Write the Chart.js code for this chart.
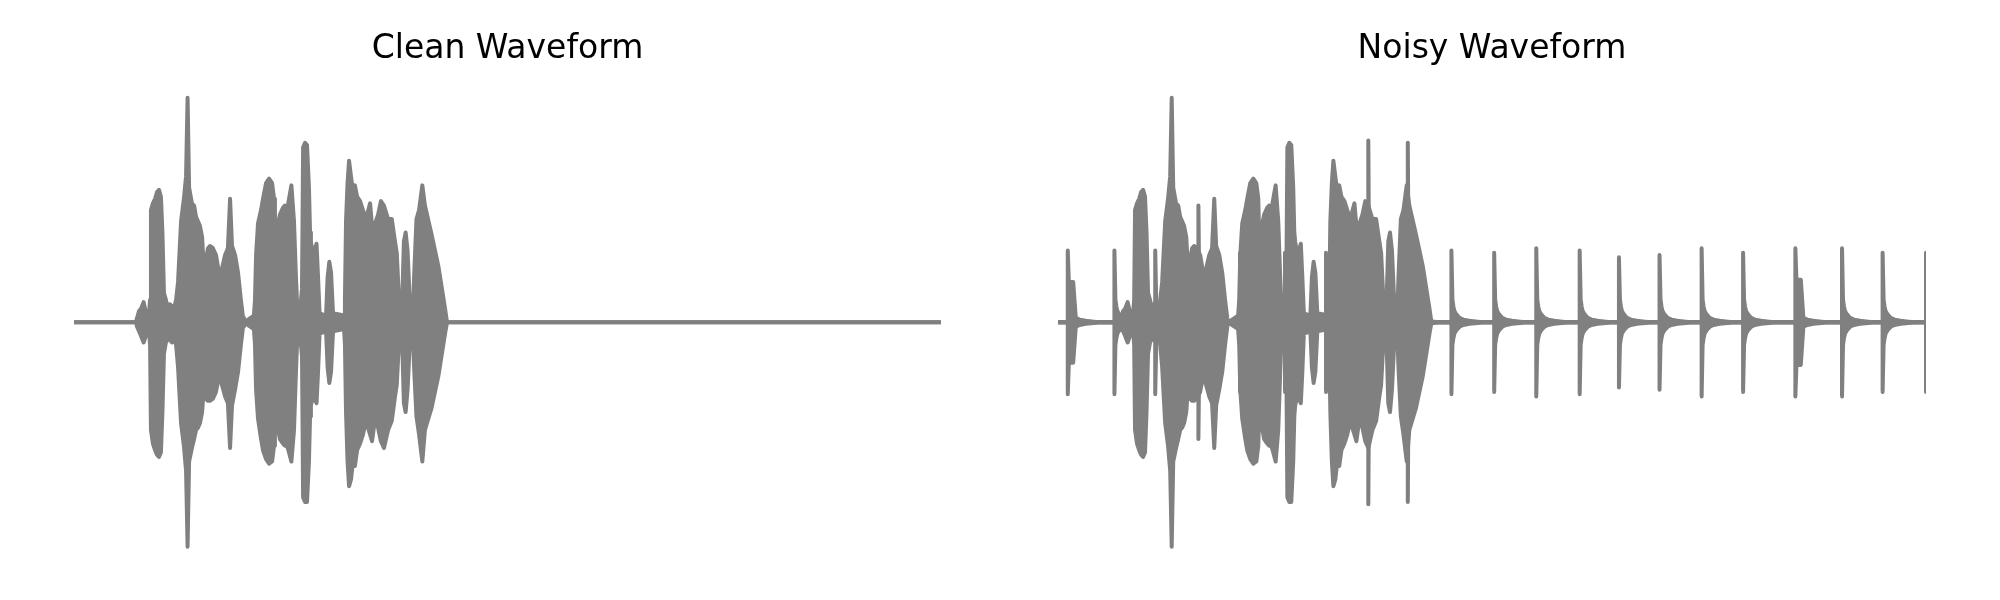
<!DOCTYPE html>
<html>
<head>
<meta charset="utf-8">
<script src="https://cdn.jsdelivr.net/npm/chart.js@4/dist/chart.umd.min.js"></script>
<style>
  html, body { margin: 0; padding: 0; background: #fff; }
  #wrap { position: relative; width: 2000px; height: 600px; }
  .panel { position: absolute; top: 0; width: 1000px; height: 600px; }
</style>
</head>
<body>
<div id="wrap">
  <div class="panel" style="left:0"><canvas id="cleanChart" width="1000" height="600"></canvas></div>
  <div class="panel" style="left:1000px"><canvas id="noisyChart" width="1000" height="600"></canvas></div>
</div>
<script>
const duration = 4.0; // seconds on each panel

// speech envelope (time s, amplitude / largest peak)
const speechTime = [
  0, 0.286, 0.291, 0.300, 0.309, 0.321, 0.328, 0.337, 0.346, 0.351,
  0.355, 0.364, 0.374, 0.383, 0.392, 0.401, 0.408, 0.415, 0.424, 0.434,
  0.443, 0.452, 0.461, 0.471, 0.480, 0.494, 0.507, 0.517, 0.524, 0.531,
  0.544, 0.554, 0.563, 0.572, 0.581, 0.591, 0.600, 0.609, 0.618, 0.627,
  0.641, 0.655, 0.669, 0.683, 0.697, 0.710, 0.720, 0.729, 0.743, 0.757,
  0.770, 0.780, 0.784, 0.830, 0.835, 0.840, 0.849, 0.863, 0.872, 0.886,
  0.900, 0.914, 0.923, 0.927, 0.937, 0.950, 0.964, 0.973, 0.983, 0.992,
  1.003, 1.015, 1.024, 1.031, 1.043, 1.052, 1.057, 1.066, 1.075, 1.084,
  1.089, 1.093, 1.103, 1.119, 1.126, 1.133, 1.163, 1.170, 1.178, 1.186,
  1.195, 1.246, 1.250, 1.255, 1.262, 1.269, 1.278, 1.287, 1.296, 1.306,
  1.320, 1.333, 1.347, 1.366, 1.375, 1.389, 1.403, 1.416, 1.430, 1.449,
  1.466, 1.481, 1.489, 1.496, 1.502, 1.511, 1.516, 1.522, 1.530, 1.539,
  1.548, 1.557, 1.564, 1.569, 1.580, 1.592, 1.607, 1.619, 1.650, 1.681,
  1.712, 1.721, 4.0
];
const speechUpper = [
  0, 0, 0.02, 0.05, 0.06, 0.09, 0.06, 0.03, 0.04, 0.10,
  0.50, 0.53, 0.55, 0.58, 0.59, 0.56, 0.40, 0.13, 0.10, 0.06,
  0.08, 0.07, 0.06, 0.10, 0.18, 0.45, 0.55, 0.65, 1.00, 0.60,
  0.53, 0.52, 0.47, 0.45, 0.43, 0.38, 0.22, 0.28, 0.33, 0.34,
  0.33, 0.30, 0.22, 0.24, 0.30, 0.33, 0.55, 0.34, 0.30, 0.22,
  0.10, 0.02, 0, 0.03, 0.10, 0.30, 0.44, 0.50, 0.55, 0.62,
  0.64, 0.62, 0.55, 0.38, 0.42, 0.48, 0.51, 0.52, 0.50, 0.55,
  0.61, 0.45, 0.20, 0.05, 0.05, 0.15, 0.78, 0.80, 0.79, 0.60,
  0.40, 0.36, 0.30, 0.35, 0.20, 0.04, 0.03, 0.20, 0.27, 0.22,
  0.04, 0.03, 0.10, 0.45, 0.62, 0.72, 0.65, 0.58, 0.61, 0.56,
  0.54, 0.50, 0.46, 0.53, 0.43, 0.44, 0.48, 0.54, 0.52, 0.46,
  0.46, 0.36, 0.31, 0.17, 0.05, 0.03, 0.15, 0.36, 0.40, 0.32,
  0.12, 0.02, 0.05, 0.20, 0.46, 0.50, 0.61, 0.52, 0.39, 0.25,
  0.06, 0, 0
];
const speechLower = [
  0, 0, -0.02, -0.04, -0.06, -0.09, -0.07, -0.05, -0.04, -0.10,
  -0.48, -0.54, -0.57, -0.59, -0.60, -0.58, -0.40, -0.14, -0.09, -0.07,
  -0.08, -0.09, -0.07, -0.10, -0.20, -0.45, -0.55, -0.66, -1.00, -0.62,
  -0.56, -0.52, -0.48, -0.47, -0.45, -0.40, -0.28, -0.34, -0.35, -0.35,
  -0.34, -0.31, -0.24, -0.28, -0.33, -0.36, -0.56, -0.37, -0.30, -0.22,
  -0.10, -0.02, 0, -0.03, -0.10, -0.30, -0.43, -0.52, -0.57, -0.61,
  -0.63, -0.62, -0.55, -0.42, -0.45, -0.52, -0.54, -0.55, -0.55, -0.58,
  -0.62, -0.48, -0.22, -0.05, -0.06, -0.15, -0.78, -0.80, -0.80, -0.62,
  -0.42, -0.37, -0.33, -0.36, -0.22, -0.05, -0.04, -0.20, -0.27, -0.22,
  -0.04, -0.03, -0.10, -0.40, -0.62, -0.73, -0.70, -0.62, -0.64, -0.57,
  -0.54, -0.50, -0.44, -0.50, -0.53, -0.43, -0.47, -0.53, -0.56, -0.48,
  -0.44, -0.33, -0.28, -0.15, -0.05, -0.03, -0.15, -0.36, -0.40, -0.30,
  -0.12, -0.02, -0.05, -0.20, -0.42, -0.50, -0.62, -0.48, -0.38, -0.24,
  -0.05, 0, 0
];

// clicks that show up only in the noisy panel
const clickTime = [0.045, 0.260, 0.448, 0.647, 0.839, 1.046, 1.235, 1.430, 1.612, 1.813, 2.010,
                   2.204, 2.404, 2.585, 2.772, 2.966, 3.157, 3.398, 3.613, 3.800, 4.000];
const clickPeak = [0.32, 0.32, 0.32, 0.52, 0.31, 0.31, 0.31, 0.81, 0.80, 0.32, 0.31,
                   0.33, 0.32, 0.29, 0.30, 0.33, 0.31, 0.33, 0.33, 0.31, 0.31];
const clickShoulder = [0.18, 0, 0, 0, 0, 0, 0, 0, 0, 0, 0,
                       0, 0, 0, 0, 0, 0, 0.19, 0, 0, 0];
// ringing after a click (seconds after it, level)
const tailOffset = [0.0046, 0.0092, 0.0138, 0.023, 0.037, 0.055, 0.083, 0.12, 0.15];
const tailLevel = [0.10, 0.07, 0.05, 0.035, 0.02, 0.012, 0.007, 0.003, 0];
const shoulderLength = 0.025;

const gray = '#808080';

function points(times, values) {
  return times.map((t, i) => ({x: t, y: values[i]}));
}

function clickLayer(sign) {
  const pts = [{x: 0, y: 0}];
  clickTime.forEach((t, i) => {
    pts.push({x: t, y: 0}, {x: t, y: sign * clickPeak[i]});
    let after = 0;
    if (clickShoulder[i] > 0) {
      pts.push({x: t + 0.005, y: sign * clickShoulder[i]}, {x: t + shoulderLength, y: sign * clickShoulder[i]});
      after = shoulderLength;
    }
    tailOffset.forEach((d, k) => {
      if (d > after) pts.push({x: t + d, y: sign * tailLevel[k]});
    });
  });
  pts.push({x: duration, y: 0});
  return pts.filter(p => p.x <= duration);
}

function band(upper, lower) {
  const common = {
    borderColor: gray, backgroundColor: gray, borderWidth: 4,
    pointRadius: 0, tension: 0, borderJoinStyle: 'round', borderCapStyle: 'round'
  };
  return [
    Object.assign({}, common, {data: upper, fill: false}),
    Object.assign({}, common, {data: lower, fill: '-1'})
  ];
}

function makeChart(id, title, datasets, pad) {
  return new Chart(document.getElementById(id), {
    type: 'line',
    data: {datasets: datasets},
    options: {
      responsive: false,
      animation: false,
      devicePixelRatio: 1,
      events: [],
      layout: {padding: pad},
      scales: {
        x: {type: 'linear', min: 0, max: duration, display: false},
        y: {min: -1.05, max: 1.05, display: false}
      },
      plugins: {
        legend: {display: false},
        tooltip: {enabled: false},
        title: {
          display: true,
          text: title,
          color: '#000',
          font: {family: 'DejaVu Sans', size: 33, weight: 'normal'},
          padding: {top: 30, bottom: 17}
        }
      }
    }
  });
}

makeChart('cleanChart', 'Clean Waveform',
  band(points(speechTime, speechUpper), points(speechTime, speechLower)),
  {left: 74, right: 59, top: 0, bottom: 42});

makeChart('noisyChart', 'Noisy Waveform',
  band(points(speechTime, speechUpper), points(speechTime, speechLower))
    .concat(band(clickLayer(1), clickLayer(-1))),
  {left: 58, right: 74, top: 0, bottom: 42});
</script>
</body>
</html>
